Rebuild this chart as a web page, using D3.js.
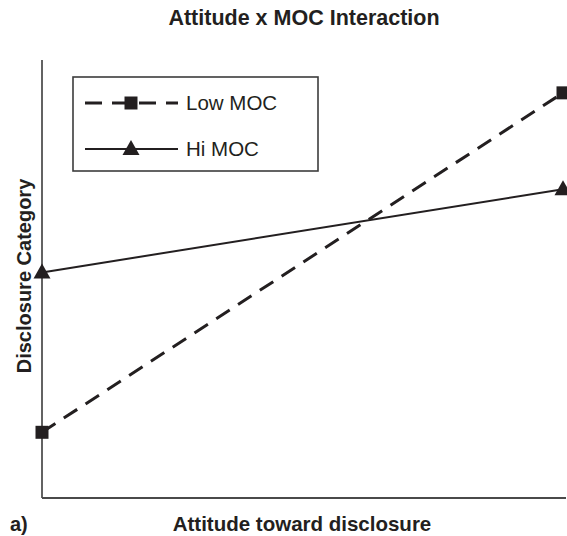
<!DOCTYPE html>
<html>
<head>
	<script src="https://cdn.jsdelivr.net/npm/d3@7"></script>
	<style>
		html, body {
			padding: 0;
			margin: 0;
			background: #fff;
		}
		text {
			font-family: "Liberation Sans", Arial, sans-serif;
			fill: #231f20;
		}
	</style>
</head>
<body>
	<script>
		var width = 567, height = 536;

		/* data (arbitrary units, 0-10) */
		var attitude = ["Low", "High"];
		var lowMOC   = [1.5, 9.25];
		var hiMOC    = [5.15, 7.05];
		var seriesNames = ["Low MOC", "Hi MOC"];

		var svg = d3.select("body").append("svg")
			.attr("width", width)
			.attr("height", height);

		var x = d3.scalePoint().domain(attitude).range([42, 563]);
		var y = d3.scaleLinear().domain([0, 10]).range([498, 60]);

		// axes: plain lines, no ticks
		svg.append("line")
			.attr("x1", x("Low")).attr("x2", x("Low"))
			.attr("y1", y(10)).attr("y2", y(0))
			.attr("stroke", "#3c3c3c").attr("stroke-width", 1.6);
		svg.append("line")
			.attr("x1", x("Low")).attr("x2", 566)
			.attr("y1", y(0)).attr("y2", y(0))
			.attr("stroke", "#4a4a4a").attr("stroke-width", 2.2);

		var line = d3.line()
			.x(function(d, i) { return x(attitude[i]); })
			.y(function(d) { return y(d); });

		// Hi MOC (solid)
		svg.append("path")
			.datum(hiMOC)
			.attr("d", line)
			.attr("fill", "none")
			.attr("stroke", "#231f20")
			.attr("stroke-width", 2);

		// Low MOC (dashed)
		svg.append("path")
			.datum(lowMOC)
			.attr("d", line)
			.attr("fill", "none")
			.attr("stroke", "#231f20")
			.attr("stroke-width", 3)
			.attr("stroke-dasharray", "16,10");

		var square = d3.symbol().type(d3.symbolSquare).size(13 * 13);
		var tri = function(cx, cy) {
			return "M" + cx + "," + (cy - 9) + "L" + (cx + 8.5) + "," + (cy + 6) +
				"L" + (cx - 8.5) + "," + (cy + 6) + "Z";
		};

		svg.selectAll(".sq").data(lowMOC).enter().append("path")
			.attr("transform", function(d, i) { return "translate(" + x(attitude[i]) + "," + y(d) + ")"; })
			.attr("d", square)
			.attr("fill", "#231f20");

		svg.selectAll(".tri").data(hiMOC).enter().append("path")
			.attr("d", function(d, i) { return tri(x(attitude[i]), y(d)); })
			.attr("fill", "#231f20");

		// legend
		var lg = svg.append("g");
		lg.append("rect")
			.attr("x", 73).attr("y", 77)
			.attr("width", 245).attr("height", 94)
			.attr("fill", "none")
			.attr("stroke", "#3c3c3c").attr("stroke-width", 1.6);

		lg.append("line")
			.attr("x1", 85).attr("x2", 178).attr("y1", 103).attr("y2", 103)
			.attr("stroke", "#231f20").attr("stroke-width", 3)
			.attr("stroke-dasharray", "17,10");
		lg.append("path")
			.attr("transform", "translate(131,103)")
			.attr("d", square)
			.attr("fill", "#231f20");

		lg.append("line")
			.attr("x1", 85).attr("x2", 178).attr("y1", 149).attr("y2", 149)
			.attr("stroke", "#231f20").attr("stroke-width", 2);
		lg.append("path")
			.attr("d", tri(131, 149))
			.attr("fill", "#231f20");

		lg.selectAll(".lt").data(seriesNames).enter().append("text")
			.attr("x", 186)
			.attr("y", function(d, i) { return [103, 149][i] + 7; })
			.style("font-size", "20.5px")
			.text(function(d) { return d; });

		// titles
		svg.append("text")
			.attr("x", 304).attr("y", 25)
			.attr("text-anchor", "middle")
			.style("font-size", "21.5px").style("font-weight", "bold")
			.text("Attitude x MOC Interaction");

		svg.append("text")
			.attr("x", 302).attr("y", 531)
			.attr("text-anchor", "middle")
			.style("font-size", "20.5px").style("font-weight", "bold")
			.text("Attitude toward disclosure");

		svg.append("text")
			.attr("x", 10).attr("y", 531)
			.style("font-size", "20px").style("font-weight", "bold")
			.text("a)");

		svg.append("text")
			.attr("transform", "translate(31,276) rotate(-90)")
			.attr("text-anchor", "middle")
			.style("font-size", "20px").style("font-weight", "bold")
			.text("Disclosure Category");
	</script>
</body>
</html>
